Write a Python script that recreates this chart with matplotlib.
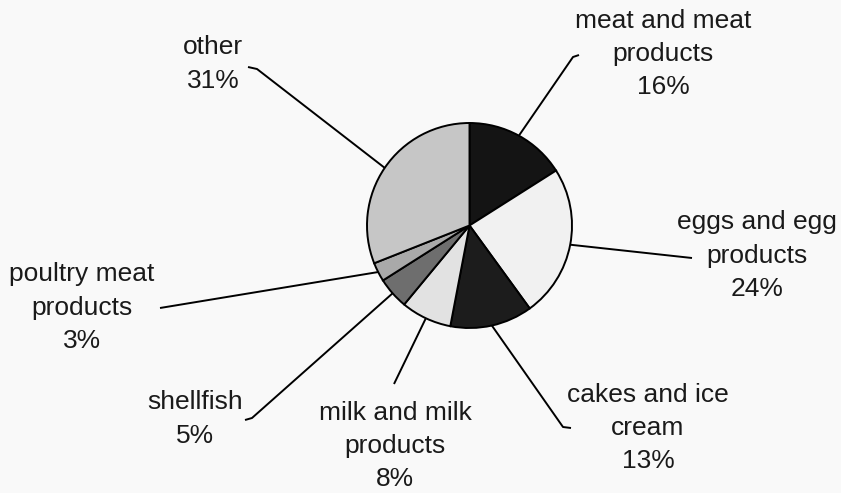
import numpy as np
import matplotlib
matplotlib.use("Agg")
import matplotlib.pyplot as plt

# Share of cases by food category (percent), clockwise from 12 o'clock
categories = [
    "meat and meat\nproducts",
    "eggs and egg\nproducts",
    "cakes and ice\ncream",
    "milk and milk\nproducts",
    "shellfish",
    "poultry meat\nproducts",
    "other",
]
shares = [16, 24, 13, 8, 5, 3, 31]

slice_colors = ["#141414", "#f1f1f1", "#1c1c1c", "#e2e2e2", "#6e6e6e", "#a9a9a9", "#c6c6c6"]

W, H = 841, 493
BG = "#f9f9f9"

# label block centres and leader-line bends (pixel space, origin top-left)
label_pos = [(663, 54), (757, 256), (648, 428), (395, 446), (195, 419), (82, 308), (213, 64)]
leader_tail = [
    [(573, 57), (579, 55)],
    [(692, 258)],
    [(563, 427), (571, 428)],
    [(394, 384)],
    [(252, 418), (245, 420)],
    [(160, 308)],
    [(257, 69), (248, 67)],
]

cx, cy, r = 469.5, 225.5, 102.5


def flip(p):
    return p[0], H - p[1]


fig = plt.figure(figsize=(W / 100, H / 100), dpi=100, facecolor=BG)
ax = fig.add_axes([0, 0, 1, 1])
ax.set_facecolor(BG)

ax.pie(
    shares,
    colors=slice_colors,
    startangle=90,
    counterclock=False,
    center=(cx, H - cy),
    radius=r,
    wedgeprops=dict(edgecolor="black", linewidth=1.4),
)
ax.set_xlim(0, W)
ax.set_ylim(0, H)
ax.set_aspect("equal")
ax.axis("off")

total = float(sum(shares))
cum = np.cumsum([0] + shares[:-1])
for name, val, c0, lp, tail in zip(categories, shares, cum, label_pos, leader_tail):
    mid = np.deg2rad(90 - 360 * (c0 + val / 2) / total)
    x0 = cx + r * np.cos(mid)
    y0 = H - cy + r * np.sin(mid)
    pts = [(x0, y0)] + [flip(p) for p in tail]
    xs, ys = zip(*pts)
    ax.plot(xs, ys, color="black", lw=1.4, solid_capstyle="butt", zorder=1)
    tx, ty = flip(lp)
    ax.text(tx, ty, f"{name}\n{val}%", ha="center", va="center",
            multialignment="center", fontsize=19, linespacing=1.5,
            family=["Liberation Sans", "DejaVu Sans"], color="#1a1a1a")

fig.savefig("out.png", dpi=100, facecolor=BG)
